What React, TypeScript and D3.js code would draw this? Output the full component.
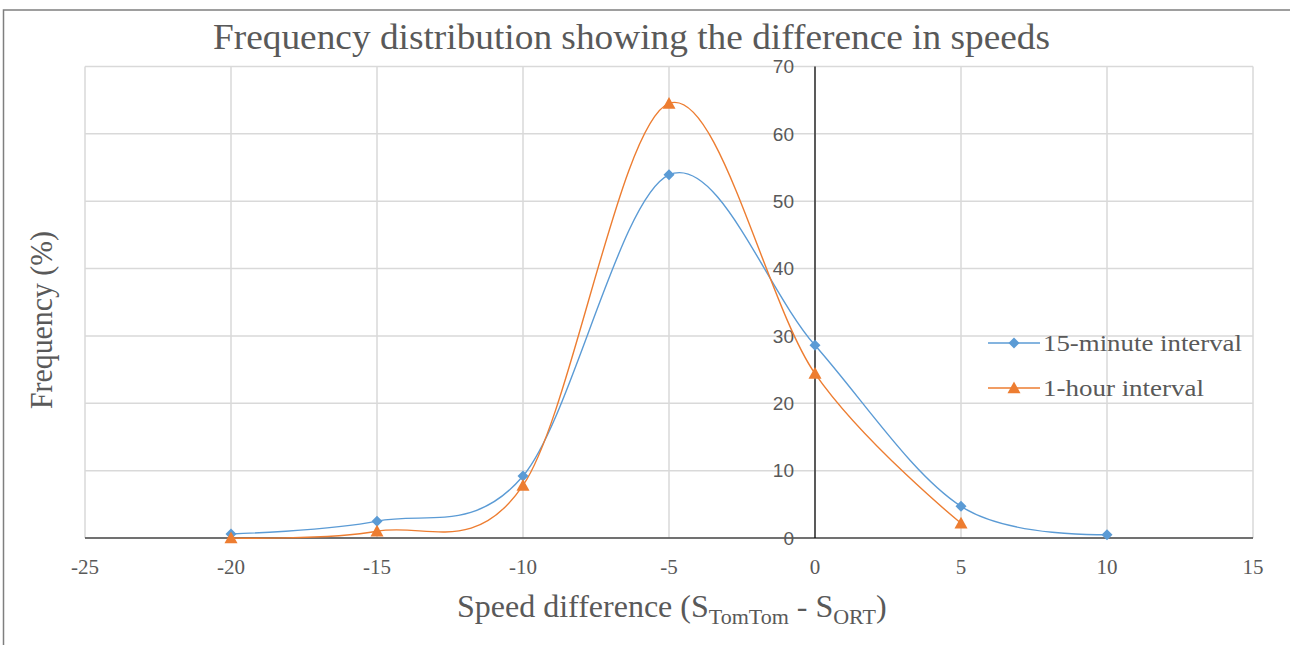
import React from "react";
import * as d3 from "d3";

const xCategories = [-20, -15, -10, -5, 0, 5, 10];
const series15min = [0.6, 2.5, 9.2, 53.9, 28.6, 4.7, 0.5];
const xCategories1h = [-20, -15, -10, -5, 0, 5];
const series1hour = [0.0, 1.0, 7.8, 64.5, 24.4, 2.2];
const xTicks = [-25, -20, -15, -10, -5, 0, 5, 10, 15];
const yTicks = [0, 10, 20, 30, 40, 50, 60, 70];
const seriesNames = ["15-minute interval", "1-hour interval"];

const W = 1290;
const H = 645;
const BLUE = "#5B9BD5";
const ORANGE = "#ED7D31";
const TEXT = "#595959";
const GRID = "#D9D9D9";
const SERIF = "'Liberation Serif', 'Times New Roman', Times, serif";
const SANS = "'Liberation Sans', Arial, sans-serif";

export default function App() {
  const x = d3.scaleLinear().domain([-25, 15]).range([85, 1253]);
  const y = d3.scaleLinear().domain([0, 70]).range([538, 66.4]);

  const line = d3
    .line<[number, number]>()
    .x((d) => x(d[0]))
    .y((d) => y(d[1]))
    .curve(d3.curveCardinal.tension(0));

  const blueData: [number, number][] = xCategories.map((c, i) => [c, series15min[i]]);
  const orangeData: [number, number][] = xCategories1h.map((c, i) => [c, series1hour[i]]);

  const diamond = (cx: number, cy: number, r = 5.5) =>
    `M${cx},${cy - r}L${cx + r},${cy}L${cx},${cy + r}L${cx - r},${cy}Z`;
  const triangle = (cx: number, cy: number, s = 6.5) =>
    `M${cx},${cy - s}L${cx + s},${cy + s * 0.8}L${cx - s},${cy + s * 0.8}Z`;

  return (
    <svg
      width={W}
      height={H}
      style={{ position: "absolute", left: 0, top: 0, background: "#fff" }}
    >
      <rect x={0} y={0} width={W} height={H} fill="#fff" />
      {/* chart border */}
      <rect x={3.5} y={10} width={W + 20} height={H + 20} fill="none" stroke="#7f7f7f" strokeWidth={1.5} />

      {/* grid */}
      {xTicks.map((t) => (
        <line key={"gx" + t} x1={x(t)} x2={x(t)} y1={y(70)} y2={y(0)} stroke={GRID} strokeWidth={1.5} />
      ))}
      {yTicks.map((t) => (
        <line key={"gy" + t} x1={x(-25)} x2={x(15)} y1={y(t)} y2={y(t)} stroke={GRID} strokeWidth={1.5} />
      ))}

      {/* axes */}
      <line x1={x(-25)} x2={x(15)} y1={y(0)} y2={y(0)} stroke="#000" strokeWidth={1.2} />
      <line x1={x(0)} x2={x(0)} y1={y(70)} y2={y(0)} stroke="#000" strokeWidth={1.2} />

      {/* y tick labels */}
      {yTicks.map((t) => (
        <text
          key={"yl" + t}
          x={x(0) - 21}
          y={y(t)}
          dy="0.36em"
          textAnchor="end"
          fontFamily={SANS}
          fontSize={19}
          fill={TEXT}
        >
          {t}
        </text>
      ))}

      {/* x tick labels */}
      {xTicks.map((t) => (
        <text
          key={"xl" + t}
          x={x(t)}
          y={573.5}
          textAnchor="middle"
          fontFamily={SERIF}
          fontSize={21}
          fill={TEXT}
        >
          {t}
        </text>
      ))}

      {/* series */}
      <path d={line(blueData) || ""} fill="none" stroke={BLUE} strokeWidth={1.4} />
      <path d={line(orangeData) || ""} fill="none" stroke={ORANGE} strokeWidth={1.4} />
      {blueData.map((d, i) => (
        <path key={"bm" + i} d={diamond(x(d[0]), y(d[1]))} fill={BLUE} />
      ))}
      {orangeData.map((d, i) => (
        <path key={"om" + i} d={triangle(x(d[0]), y(d[1]))} fill={ORANGE} />
      ))}

      {/* title */}
      <text
        x={631.5}
        y={48.5}
        textAnchor="middle"
        fontFamily={SERIF}
        fontSize={36}
        fill={TEXT}
        textLength={837}
        lengthAdjust="spacingAndGlyphs"
      >
        Frequency distribution showing the difference in speeds
      </text>

      {/* y axis title */}
      <text
        transform={`translate(52,320) rotate(-90)`}
        textAnchor="middle"
        fontFamily={SERIF}
        fontSize={31}
        fill={TEXT}
        textLength={178}
        lengthAdjust="spacingAndGlyphs"
      >
        Frequency (%)
      </text>

      {/* x axis title */}
      <text x={457} y={617} fontFamily={SERIF} fontSize={32} fill={TEXT}>
        Speed difference (S
        <tspan fontSize={22} dy={7}>TomTom</tspan>
        <tspan dy={-7}> - S</tspan>
        <tspan fontSize={22} dy={7}>ORT</tspan>
        <tspan dy={-7}>)</tspan>
      </text>

      {/* legend */}
      {seriesNames.map((name, i) => {
        const ly = 343 + i * 45;
        const color = i === 0 ? BLUE : ORANGE;
        return (
          <g key={"lg" + i}>
            <line x1={988} x2={1040} y1={ly} y2={ly} stroke={color} strokeWidth={1.4} />
            {i === 0 ? (
              <path d={diamond(1014, ly)} fill={color} />
            ) : (
              <path d={triangle(1014, ly)} fill={color} />
            )}
            <text
              x={1043}
              y={ly + 8}
              fontFamily={SERIF}
              fontSize={23}
              fill={TEXT}
              textLength={i === 0 ? 199 : 161}
              lengthAdjust="spacingAndGlyphs"
            >
              {name}
            </text>
          </g>
        );
      })}
    </svg>
  );
}
